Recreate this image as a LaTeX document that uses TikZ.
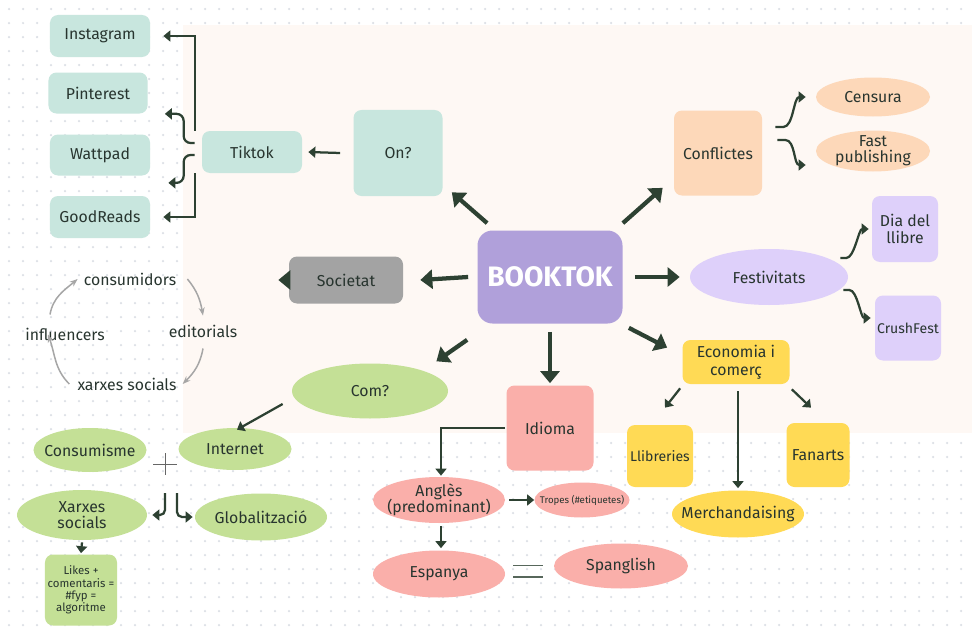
\documentclass[tikz,border=0pt]{standalone}
\usepackage{fontspec}
\setmainfont{Fira Sans}
\usetikzlibrary{arrows.meta,shapes.geometric}

\definecolor{ink}{HTML}{2D4132}
\definecolor{txt}{HTML}{28352F}
\definecolor{peach}{HTML}{FEF8F4}
\definecolor{dotc}{HTML}{DCE0E6}
\definecolor{mint}{HTML}{C8E6DE}
\definecolor{grayb}{HTML}{A3A3A3}
\definecolor{lila}{HTML}{B0A0DA}
\definecolor{orang}{HTML}{FDD8B9}
\definecolor{lav}{HTML}{DED0FA}
\definecolor{yell}{HTML}{FFDA55}
\definecolor{rosa}{HTML}{FAAFAA}
\definecolor{verd}{HTML}{C4E096}

\begin{document}
\begin{tikzpicture}[x=0.2mm,y=-0.2mm,font=\fontsize{9}{10}\selectfont,text=txt,
  box/.style={rounded corners=1.6mm,align=center,inner sep=1pt},
  ell/.style={ellipse,align=center,inner xsep=-6pt,inner ysep=-3pt},
  big/.style={draw=ink,line width=0.85mm,-{Triangle[length=2.4mm,width=3.8mm]}},
  arr/.style={draw=ink,line width=0.45mm,-{Triangle[length=1.4mm,width=2.2mm]}},
  cyc/.style={draw=gray!70,line width=0.3mm,-{Stealth[length=1.6mm]}}]
  \useasboundingbox (0,0) rectangle (972,633);
  \fill[white] (0,0) rectangle (972,633);
  \foreach \i in {0,...,69} {
      \foreach \j in {0,...,44} {
          \fill[dotc] (9+14*\i,9+14*\j) circle (0.25mm);
        }
    }
  \fill[peach] (183,25) rectangle (972,433);

  % centre
  \node[box,fill=lila,rounded corners=3mm,minimum width=29mm,minimum height=18.6mm,
    text=white,font=\fontsize{16}{18}\selectfont\bfseries] (book) at (550,277) {BOOKTOK};

  % on?
  \node[box,fill=mint,minimum width=17.8mm,minimum height=17.2mm] (on) at (398,153) {On?};
  \node[box,fill=mint,minimum width=20mm,minimum height=8.4mm] (tiktok) at (252,152) {Tiktok};
  \node[box,fill=mint,minimum width=20mm,minimum height=8.4mm] (insta) at (100,36) {Instagram};
  \node[box,fill=mint,minimum width=19.8mm,minimum height=8.2mm] (pint) at (98,93) {Pinterest};
  \node[box,fill=mint,minimum width=20mm,minimum height=8.2mm] (watt) at (100,155) {Wattpad};
  \node[box,fill=mint,minimum width=20mm,minimum height=8.4mm] (good) at (100,217) {GoodReads};

  % societat
  \node[box,fill=grayb,minimum width=22.8mm,minimum height=9.4mm] (soc) at (346,280) {Societat};
  \node (cmd) at (130,279) {consumidors};
  \node (edit) at (203,331) {editorials};
  \node (xs) at (127,384) {xarxes socials};
  \node (infl) at (65,334) {influencers};

  % conflictes
  \node[box,fill=orang,minimum width=17.6mm,minimum height=17mm] (conf) at (718,153) {Conflictes};
  \node[ell,fill=orang,minimum width=22.8mm,minimum height=7.8mm] (cens) at (873,97) {Censura};
  \node[ell,fill=orang,minimum width=22.8mm,minimum height=8.2mm] (fast) at (873,151) {Fast\\[-1pt]publishing};

  % festivitats
  \node[ell,fill=lav,minimum width=31.6mm,minimum height=11.2mm] (fest) at (769,277) {Festivitats};
  \node[box,fill=lav,minimum width=13.2mm,minimum height=13.2mm] (dia) at (905,229) {Dia del\\llibre};
  \node[box,fill=lav,minimum width=13.2mm,minimum height=13mm,font=\fontsize{8}{9}\selectfont] (crush) at (908,328) {CrushFest};

  % economia
  \node[box,fill=yell,minimum width=21.4mm,minimum height=8.8mm] (eco) at (736,362) {Economia i\\comerç};
  \node[box,fill=yell,minimum width=13.2mm,minimum height=12.4mm,font=\fontsize{8}{9}\selectfont] (llib) at (660,456) {Llibreries};
  \node[box,fill=yell,minimum width=12.6mm,minimum height=12.8mm] (fan) at (818,455) {Fanarts};
  \node[ell,fill=yell,minimum width=26.4mm,minimum height=9.4mm] (merch) at (738,514) {Merchandaising};

  % idioma
  \node[box,fill=rosa,minimum width=17.4mm,minimum height=17mm] (idi) at (550,428) {Idioma};
  \node[ell,fill=rosa,minimum width=26.4mm,minimum height=9.2mm] (ang) at (439,500) {Anglès\\[-1pt](predominant)};
  \node[ell,fill=rosa,minimum width=19mm,minimum height=7mm,inner xsep=-9pt,
    font=\fontsize{5.5}{6}\selectfont] (trop) at (582,500) {Tropes (\#etiquetes)};
  \node[ell,fill=rosa,minimum width=26.4mm,minimum height=9.4mm] (esp) at (439,574) {Espanya};
  \node[ell,fill=rosa,minimum width=26.8mm,minimum height=9mm] (span) at (621,566) {Spanglish};
  \node[minimum width=6mm,minimum height=2.4mm,inner sep=0pt,
    path picture={\draw[ink!80,line width=0.35mm]
      (path picture bounding box.north west) -- (path picture bounding box.north east)
      (path picture bounding box.south west) -- (path picture bounding box.south east);}] (eq) at (528,571) {};

  % com?
  \node[ell,fill=verd,minimum width=31.2mm,minimum height=11mm] (com) at (370,391) {Com?};
  \node[ell,fill=verd,minimum width=22.6mm,minimum height=8.4mm] (inet) at (235,449) {Internet};
  \node[ell,fill=verd,minimum width=22.6mm,minimum height=8.8mm] (cons) at (90,450) {Consumisme};
  \node[minimum width=4.8mm,minimum height=4.4mm,inner sep=0pt,
    path picture={\draw[gray!80!black,line width=0.2mm]
      (path picture bounding box.north) -- (path picture bounding box.south)
      (path picture bounding box.west) -- (path picture bounding box.east);}] (plus) at (165,464) {};
  \node[ell,fill=verd,minimum width=26mm,minimum height=10mm] (xar) at (82,515) {Xarxes\\[-1pt]socials};
  \node[ell,fill=verd,minimum width=26.4mm,minimum height=9.4mm] (glob) at (261,517) {Globalització};
  \node[box,fill=verd,minimum width=14.4mm,minimum height=14.2mm,
    font=\fontsize{6.5}{7}\selectfont] (likes) at (81,590) {Likes +\\comentaris =\\\#fyp =\\algoritme};

  % main arrows
  \draw[big] ([shift={(10,-7)}]book.north west) -- ([shift={(9,-4)}]on.south east);
  \draw[big] ([shift={(0,-7)}]book.north east) -- ([shift={(-11,-8)}]conf.south west);
  \draw[big] ([xshift=-1.8mm]book.west) -- ([xshift=3.4mm]soc.east);
  \draw[big] ([xshift=2.4mm]book.east) -- ([xshift=-2mm]fest.west);
  \draw[big] ([shift={(6,4)}]book.south east) -- ([shift={(-15,8)}]eco.north west);
  \draw[big] ([yshift=-1.6mm]book.south) -- ([yshift=0.4mm]idi.north);
  \draw[big] ([shift={(-10,16)}]book.south west) -- ([shift={(11,-10)}]com.north east);

  % on?
  \draw[arr] ([xshift=-2.6mm]on.west) -- ([xshift=1.2mm]tiktok.east);
  \draw[arr] ([xshift=-1.4mm]tiktok.north west) |- ([xshift=2.6mm]insta.east);
  \draw[arr] ([xshift=-1.4mm]tiktok.south west) |- ([xshift=2.6mm]good.east);
  \draw[arr,rounded corners=1.4mm] ([xshift=-1.4mm,yshift=1.8mm]tiktok.west) -- ++(-11,0) |- ([xshift=3.4mm]pint.south east);
  \draw[arr,rounded corners=1.4mm] ([xshift=-1.4mm,yshift=-0.6mm]tiktok.west) -- ++(-11,0) |- ([xshift=3.6mm,yshift=-1.4mm]watt.south east);

  % societat
  \draw[big,line width=0.6mm] ([xshift=-1.2mm]soc.west) -- ([xshift=7mm]soc.west -| edit.east);
  \draw[cyc] ([xshift=1mm]cmd.east) to[out=-50,in=100] ([yshift=0.6mm]edit.north);
  \draw[cyc] ([yshift=-1mm]edit.south) to[out=-100,in=45] (xs.east);
  \draw[cyc] ([xshift=-0.4mm]xs.west) to[out=135,in=-70] ([shift={(-17,-12)}]infl.south);
  \draw[cyc] ([shift={(-15,-7)}]infl.north) to[out=80,in=-140] (cmd.west);

  % conflictes i festivitats
  \draw[arr] ([shift={(13,-26)}]conf.east) -- ++(8,0) .. controls +(10,0) and +(-12,0) .. ([xshift=-2mm]cens.west);
  \draw[arr] ([shift={(15,-13)}]conf.east) -- ++(8,0) .. controls +(10,0) and +(-12,0) .. ([xshift=-2mm,yshift=-2.8mm]fast.west);
  \draw[arr] ([shift={(-8,-19)}]fest.east) -- ++(6,0) .. controls +(8,0) and +(-10,0) .. ([xshift=-0.6mm]dia.west);
  \draw[arr] ([shift={(-5,13)}]fest.east) -- ++(6,0) .. controls +(8,0) and +(-10,0) .. ([shift={(-4,-10)}]crush.west);

  % economia
  \draw[arr] ([shift={(-2,4)}]eco.south west) -- ([shift={(5,-17)}]llib.north);
  \draw[arr] ([shift={(2,5)}]eco.south east) -- ([shift={(-7,-15)}]fan.north);
  \draw[arr] ([shift={(2,7)}]eco.south) -- ([yshift=0.4mm]merch.north);

  % idioma
  \draw[arr] ([xshift=-0.2mm]idi.west) -| ([xshift=0.4mm,yshift=0.2mm]ang.north);
  \draw[arr] ([xshift=0.8mm]ang.east) -- (trop.west);
  \draw[arr] ([xshift=0.4mm,yshift=-0.6mm]ang.south) -- ([xshift=0.4mm,yshift=0.4mm]esp.north);

  % com?
  \draw[arr] ([shift={(-9,13)}]com.west) -- ([xshift=0.4mm,yshift=-0.4mm]inet.north);
  \draw[arr,rounded corners=1mm] ([shift={(0,29)}]plus.center) |- ([xshift=1mm]xar.east);
  \draw[arr,rounded corners=1mm] ([shift={(12,29)}]plus.center) |- ([xshift=-0.4mm]glob.west);
  \draw[arr] ([yshift=-0.4mm]xar.south) -- ([yshift=0.2mm]likes.north);
\end{tikzpicture}
\end{document}
